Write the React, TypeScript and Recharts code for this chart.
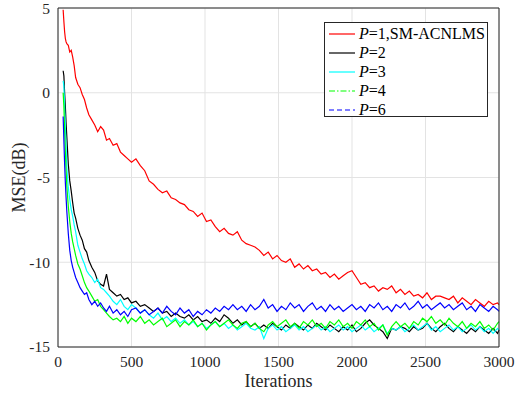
import * as React from "react"
import { CartesianGrid, Legend, Line, LineChart, XAxis, YAxis } from "recharts"

const iterations = [
    35, 40, 45, 50, 55, 60, 70, 80, 90, 100, 110, 120, 135, 150, 165, 180, 195, 210, 230, 250,
    270, 290, 310, 330, 350, 375, 400, 425, 450, 475, 500, 530, 560, 590, 620, 650, 680, 710, 740, 770,
    800, 830, 860, 890, 920, 950, 980, 1010, 1040, 1070, 1100, 1130, 1160, 1190, 1220, 1250, 1280, 1310, 1340, 1370,
    1400, 1430, 1460, 1490, 1520, 1550, 1580, 1610, 1640, 1670, 1700, 1730, 1760, 1790, 1820, 1850, 1880, 1910, 1940, 1970,
    2000, 2030, 2060, 2090, 2120, 2150, 2180, 2210, 2240, 2270, 2300, 2330, 2360, 2390, 2420, 2450, 2480, 2510, 2540, 2570,
    2600, 2630, 2660, 2690, 2720, 2750, 2780, 2810, 2840, 2870, 2900, 2930, 2960, 2990, 3000,
]

// P=1, SM-ACNLMS
const mseP1 = [
    4.9, 4.2, 3.6, 3.2, 3.0, 2.9, 2.8, 2.4, 2.5, 2.1, 1.6, 0.9, 0.5, 0.3, -0.1, -0.4, -0.9, -1.3, -1.6, -1.9,
    -2.3, -2.0, -2.2, -2.8, -2.7, -3.1, -3.0, -3.5, -3.7, -3.9, -4.1, -3.9, -4.3, -4.6, -5.2, -5.4, -5.7, -5.9, -5.8, -6.2,
    -6.3, -6.5, -6.6, -6.9, -7.0, -7.3, -7.1, -7.6, -7.5, -7.9, -8.2, -8.0, -8.3, -8.4, -8.2, -8.7, -8.9, -9.0, -9.1, -9.3,
    -9.6, -9.4, -9.8, -9.6, -9.9, -10.0, -9.8, -10.3, -10.1, -10.4, -10.2, -10.5, -10.4, -10.7, -10.6, -10.9, -10.7, -11.0, -10.8, -10.6,
    -10.5, -10.9, -11.3, -11.2, -11.5, -11.4, -11.7, -11.5, -11.6, -11.4, -11.8, -11.6, -11.9, -11.7, -12.0, -11.9, -12.1, -11.8, -12.2, -12.0,
    -12.0, -12.1, -12.2, -12.0, -12.4, -12.1, -12.3, -12.5, -12.2, -12.4, -12.6, -12.3, -12.5, -12.4, -12.5,
]

const mseP2 = [
    1.3, 1.0, 0.0, -0.8, -1.8, -2.6, -4.2, -5.2, -5.8, -6.5, -7.1, -7.4, -8.0, -8.4, -8.7, -9.2, -9.4, -9.9, -10.3, -10.6,
    -11.1, -11.3, -11.4, -10.7, -11.6, -11.8, -12.0, -11.9, -12.2, -12.1, -12.4, -12.3, -12.6, -12.5, -12.7, -12.9, -12.7, -13.0, -12.9, -13.2,
    -13.0, -13.2, -13.3, -13.1, -13.4, -13.2, -13.5, -13.4, -13.6, -13.3, -13.5, -13.1, -13.3, -13.6, -13.4, -13.7, -13.5, -13.8, -13.6, -13.9,
    -13.7, -13.9, -13.6, -13.8, -14.0, -13.7, -13.9, -13.6, -13.8, -14.0, -13.7, -13.9, -13.6, -13.8, -14.0, -13.7, -13.9, -14.1, -13.8, -14.0,
    -13.7, -14.1, -13.9, -13.6, -13.4, -13.7, -13.9, -14.1, -14.5, -13.9, -14.0, -13.8, -13.9, -14.1, -13.8, -14.0, -13.9, -13.6, -13.9, -14.1,
    -13.8, -13.6, -13.9, -14.1, -13.8, -14.0, -14.2, -13.9, -14.1, -13.8, -14.0, -14.2, -13.9, -14.2, -14.0,
]

const mseP3 = [
    0.7, 0.4, -0.8, -2.0, -3.2, -4.4, -5.6, -6.3, -6.9, -7.3, -7.8, -8.2, -9.0, -9.4, -9.8, -10.1, -10.5, -10.7, -10.9, -11.2,
    -11.0, -11.5, -11.6, -11.8, -12.0, -12.3, -12.5, -12.2, -12.6, -12.8, -12.5, -12.7, -13.0, -12.8, -13.1, -13.3, -13.0, -13.4, -13.2, -13.5,
    -13.3, -13.6, -13.4, -13.7, -13.5, -13.8, -13.6, -13.9, -13.7, -13.5, -13.8, -13.6, -13.9, -13.7, -14.0, -13.8, -13.6, -13.9, -14.0, -13.8,
    -14.5, -13.9, -13.7, -14.0, -13.8, -14.1, -13.9, -13.7, -14.0, -13.8, -14.1, -13.9, -13.7, -14.0, -13.8, -14.1, -13.9, -13.7, -14.0, -13.8,
    -14.1, -13.9, -13.7, -14.0, -13.8, -14.1, -13.9, -13.7, -14.2, -13.9, -14.0, -13.8, -14.1, -13.9, -13.7, -14.0, -13.8, -13.6, -14.0, -13.8,
    -14.1, -13.9, -13.7, -14.0, -13.8, -14.1, -13.9, -13.7, -14.0, -13.8, -14.1, -13.9, -14.2, -13.9, -14.0,
]

const mseP4 = [
    0.0, -0.8, -2.2, -3.5, -4.6, -5.5, -6.7, -7.6, -8.3, -8.8, -9.2, -9.6, -10.1, -10.4, -10.8, -11.2, -11.5, -11.7, -12.0, -12.3,
    -12.2, -12.6, -12.8, -13.0, -13.2, -13.4, -13.3, -13.5, -13.2, -13.6, -13.3, -13.5, -13.2, -13.6, -13.4, -13.7, -13.5, -13.3, -13.8, -13.6,
    -13.4, -13.8, -13.5, -13.7, -13.4, -13.8, -13.6, -14.0, -13.7, -13.5, -13.8, -13.6, -13.4, -13.7, -13.9, -13.6, -13.5, -13.8, -13.6, -13.9,
    -14.1, -13.7, -13.5, -13.8, -13.6, -13.4, -13.8, -13.6, -13.9, -13.5, -13.7, -13.4, -13.8, -13.6, -13.9, -13.5, -13.7, -13.4, -13.8, -13.6,
    -13.9, -13.5, -13.7, -13.4, -13.8, -13.6, -14.0, -13.7, -14.3, -13.8, -13.5, -13.8, -13.6, -13.9, -13.5, -13.7, -13.3, -13.5, -13.2, -13.6,
    -13.4, -13.7, -13.3, -13.6, -13.8, -13.5, -13.9, -13.6, -13.8, -13.5, -13.9, -13.7, -14.0, -13.6, -13.5,
]

const mseP6 = [
    -1.4, -2.8, -4.2, -5.3, -6.2, -7.0, -8.3, -9.3, -9.9, -10.3, -10.6, -10.9, -11.2, -11.5, -11.7, -11.9, -11.8, -12.2, -12.5, -12.3,
    -12.6, -12.4, -12.7, -12.9, -12.6, -13.0, -12.8, -13.1, -12.9, -13.2, -12.8, -12.7, -13.0, -12.8, -13.1, -12.9, -12.7, -13.0, -12.6, -12.9,
    -13.1, -12.7, -13.0, -12.8, -13.2, -12.9, -13.1, -12.8, -13.0, -12.7, -12.9, -12.6, -12.8, -12.5, -12.8, -12.6, -12.9, -12.5, -12.8, -12.6,
    -12.2, -12.7, -12.5, -12.9, -12.6, -12.8, -12.4, -12.7, -12.5, -12.9, -12.6, -12.4, -12.8, -12.6, -12.9, -12.5, -12.8, -12.6, -12.9, -12.7,
    -12.5, -12.8, -12.6, -12.9, -12.5, -12.7, -12.4, -12.8, -12.6, -12.9, -12.5, -12.7, -12.4, -12.8, -12.6, -12.3, -12.7, -12.5, -12.8, -12.6,
    -12.4, -12.7, -12.5, -12.8, -12.6, -12.4, -12.8, -12.6, -12.9, -12.5, -12.7, -12.9, -12.6, -12.8, -12.9,
]

const xTicks = [0, 500, 1000, 1500, 2000, 2500, 3000]
const yTicks = [-15, -10, -5, 0, 5]

const series = [
    { key: "p1", label: "1,SM-ACNLMS", color: "#ff0000", dash: undefined },
    { key: "p2", label: "2", color: "#000000", dash: undefined },
    { key: "p3", label: "3", color: "#00ffff", dash: undefined },
    { key: "p4", label: "4", color: "#00ff00", dash: "6 2 1.5 2" },
    { key: "p6", label: "6", color: "#0000ff", dash: "5 3" },
]

const data = iterations.map((it, i) => ({
    it,
    p1: mseP1[i],
    p2: mseP2[i],
    p3: mseP3[i],
    p4: mseP4[i],
    p6: mseP6[i],
}))

const font = "'Liberation Serif', 'Times New Roman', serif"
const frame = { stroke: "#262626" }
const tickText = { fontFamily: font, fontSize: 15.5, fill: "#262626" }

function XTick({ x, y, payload }: any) {
    return (
        <text x={x} y={y} dy="0.75em" textAnchor="middle" style={tickText}>
            {String(payload.value)}
        </text>
    )
}

function YTick({ x, y, payload }: any) {
    return (
        <text x={x} y={y} dy="0.35em" textAnchor="end" style={tickText}>
            {String(payload.value)}
        </text>
    )
}

function LegendBox() {
    return (
        <div style={{
            width: 164, height: 95, border: "1px solid #262626", background: "#fff",
            fontFamily: font, fontSize: 16, color: "#000", padding: "1px 0 0 3px", boxSizing: "border-box",
        }}>
            {series.map(s => (
                <div key={s.key} style={{ display: "flex", alignItems: "center", height: 19 }}>
                    <svg width={28} height={10} style={{ marginRight: 3 }}>
                        <line x1={1} y1={5} x2={27} y2={5} stroke={s.color} strokeWidth={1.2} strokeDasharray={s.dash} />
                    </svg>
                    <span><i>P</i>={s.label}</span>
                </div>
            ))}
        </div>
    )
}

export default function App() {
    return (
        <div style={{ position: "absolute", left: 0, top: 0, width: 516, height: 394, background: "#fff", fontFamily: font }}>
            <LineChart width={516} height={394} data={data} margin={{ top: 8, right: 17, left: 0, bottom: 0 }}>
                <CartesianGrid stroke="#e3e3e3" strokeWidth={1} />
                <XAxis
                    dataKey="it" type="number" domain={[0, 3000]} ticks={xTicks} height={47}
                    tick={XTick} tickLine={false} axisLine={frame}
                    label={{ value: "Iterations", position: "center", dy: 10, style: { fontSize: 18, fill: "#262626", fontFamily: font } }}
                />
                <XAxis
                    xAxisId="bottomTicks" orientation="bottom" mirror type="number" domain={[0, 3000]} ticks={xTicks} height={0}
                    tick={false} tickSize={4} tickLine={frame} axisLine={false}
                />
                <XAxis
                    xAxisId="top" orientation="top" mirror type="number" domain={[0, 3000]} ticks={xTicks}
                    tick={false} tickSize={4} tickLine={frame} axisLine={frame}
                />
                <YAxis
                    type="number" domain={[-15, 5]} ticks={yTicks} width={58} allowDataOverflow
                    tick={YTick} tickLine={false} axisLine={frame}
                    label={{ value: "MSE(dB)", angle: -90, position: "center", dx: -10, style: { fontSize: 18, fill: "#262626", fontFamily: font } }}
                />
                <YAxis
                    yAxisId="leftTicks" orientation="left" mirror type="number" domain={[-15, 5]} ticks={yTicks} width={0}
                    tick={false} tickSize={4} tickLine={frame} axisLine={false}
                />
                <YAxis
                    yAxisId="right" orientation="right" mirror type="number" domain={[-15, 5]} ticks={yTicks}
                    tick={false} tickSize={4} tickLine={frame} axisLine={frame}
                />
                {series.map(s => (
                    <Line
                        key={s.key} dataKey={s.key} type="linear" stroke={s.color} strokeWidth={1.2}
                        dot={false} activeDot={false} isAnimationActive={false}
                    />
                ))}
                <Legend
                    layout="horizontal" verticalAlign="middle" align="center"
                    content={() => <LegendBox />}
                    wrapperStyle={{ position: "absolute", left: 324, top: 22, width: 164, height: 95 }}
                />
            </LineChart>
        </div>
    )
}
